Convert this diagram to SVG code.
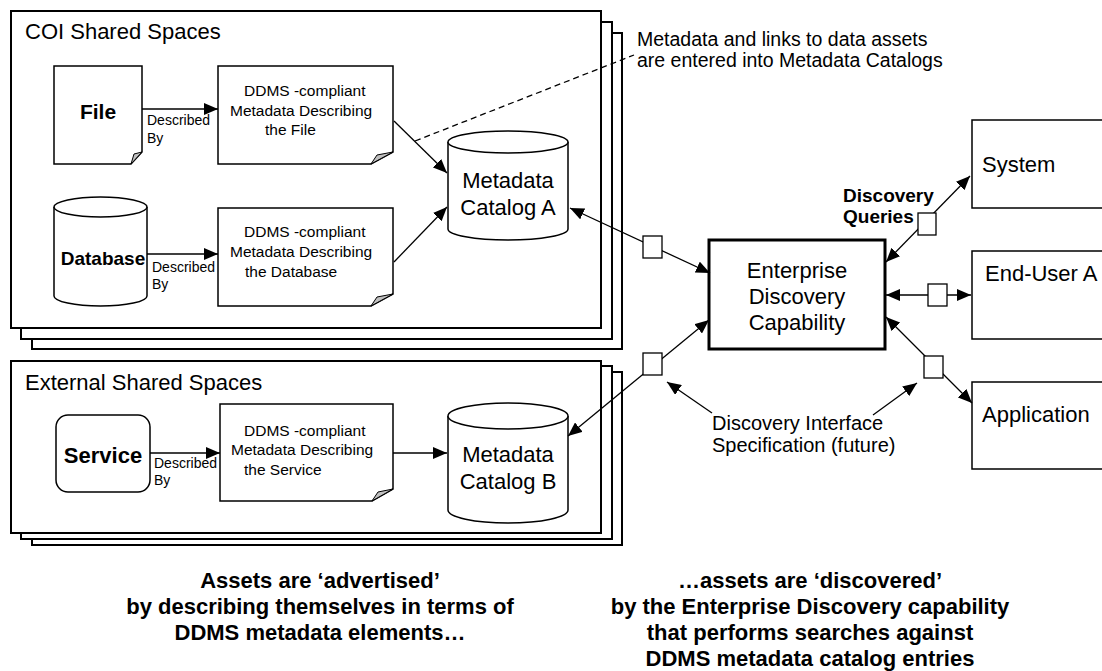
<svg xmlns="http://www.w3.org/2000/svg" width="1102" height="671" viewBox="0 0 1102 671">
<style>
.s{fill:#fff;stroke:#000;stroke-width:2}
.b{fill:#fff;stroke:#000;stroke-width:1.5}
.fold{fill:#c0c0c0;stroke:#000;stroke-width:1}
.ln{fill:none;stroke:#000;stroke-width:1.3}
.sq{fill:#fff;stroke:#000;stroke-width:1.3}
.t{font-family:"Liberation Sans",Arial,sans-serif;fill:#000}
.bd{font-weight:bold}
.m{text-anchor:middle}
</style>
<defs>
<marker id="ah" markerUnits="userSpaceOnUse" markerWidth="14" markerHeight="12" refX="14" refY="6" orient="auto-start-reverse">
<path d="M0,0 L14,6 L0,12 Z" fill="#000"/>
</marker>
</defs>

<g id="coi-stack">
<rect class="s" x="32" y="33" width="590" height="316"/>
<rect class="s" x="21" y="22" width="591" height="317"/>
<rect class="s" x="11" y="11" width="590" height="317"/>
<text class="t" x="25" y="39" font-size="22">COI Shared Spaces</text>
</g>

<g id="ext-stack">
<rect class="s" x="32" y="372" width="590" height="173"/>
<rect class="s" x="21" y="366" width="591" height="173"/>
<rect class="s" x="11" y="361" width="590" height="172"/>
<text class="t" x="25" y="390" font-size="22">External Shared Spaces</text>
</g>

<g id="file">
<path class="b" d="M54,66 H142 V152 L131,164 H54 Z"/>
<polygon class="fold" points="131,164 134,154 142,152"/>
<text class="t bd m" x="98" y="119" font-size="21">File</text>
</g>

<g id="doc-file">
<path class="b" d="M218,66 H393 V152 L371,164 H218 Z"/>
<polygon class="fold" points="371,164 377,155 393,152"/>
<text class="t" font-size="15.5"><tspan x="244" y="96">DDMS -compliant</tspan><tspan x="230" y="116">Metadata Describing</tspan><tspan x="265" y="135">the File</tspan></text>
</g>

<g id="database">
<path class="b" d="M54,207 V296 A46.5,10 0 0 0 147,296 V207"/>
<ellipse class="b" cx="100.5" cy="207" rx="46.5" ry="10"/>
<text class="t bd m" x="103" y="265" font-size="19">Database</text>
</g>

<g id="doc-database">
<path class="b" d="M218,208 H393 V294 L371,306 H218 Z"/>
<polygon class="fold" points="371,306 377,297 393,294"/>
<text class="t" font-size="15.5"><tspan x="244" y="237">DDMS -compliant</tspan><tspan x="230" y="257">Metadata Describing</tspan><tspan x="245" y="277">the Database</tspan></text>
</g>

<g id="catalog-a">
<path class="b" d="M448,142 V229 A60,11 0 0 0 568,229 V142"/>
<ellipse class="b" cx="508" cy="142" rx="60" ry="11"/>
<text class="t m" font-size="22"><tspan x="508" y="188">Metadata</tspan><tspan x="508" y="215">Catalog A</tspan></text>
</g>

<g id="service">
<rect class="b" x="56" y="415" width="94" height="77" rx="12"/>
<text class="t bd m" x="103" y="463" font-size="22">Service</text>
</g>

<g id="doc-service">
<path class="b" d="M220,404 H393 V489 L372,501 H220 Z"/>
<polygon class="fold" points="372,501 378,492 393,489"/>
<text class="t" font-size="15.5"><tspan x="244" y="436">DDMS -compliant</tspan><tspan x="231" y="455">Metadata Describing</tspan><tspan x="244" y="475">the Service</tspan></text>
</g>

<g id="catalog-b">
<path class="b" d="M448,416 V510 A60,13 0 0 0 568,510 V416"/>
<ellipse class="b" cx="508" cy="416" rx="60" ry="13"/>
<text class="t m" font-size="22"><tspan x="508" y="462">Metadata</tspan><tspan x="508" y="489">Catalog B</tspan></text>
</g>

<g id="edc">
<rect x="709" y="240" width="176" height="109" fill="#fff" stroke="#000" stroke-width="3"/>
<text class="t m" font-size="22"><tspan x="797" y="278">Enterprise</tspan><tspan x="797" y="304">Discovery</tspan><tspan x="797" y="330">Capability</tspan></text>
</g>

<g id="system">
<path class="b" d="M1102,120 H972 V208 H1102"/>
<text class="t" x="982" y="172" font-size="22">System</text>
</g>

<g id="end-user">
<path class="b" d="M1102,251 H972 V339 H1102"/>
<text class="t" x="985" y="281" font-size="22">End-User A</text>
</g>

<g id="application">
<path class="b" d="M1102,382 H972 V469 H1102"/>
<text class="t" x="982" y="422" font-size="22">Application</text>
</g>

<g id="connectors">
<line class="ln" x1="142" y1="109" x2="218" y2="109" marker-end="url(#ah)"/>
<line class="ln" x1="147" y1="254" x2="218" y2="254" marker-end="url(#ah)"/>
<line class="ln" x1="150" y1="453" x2="220" y2="453" marker-end="url(#ah)"/>
<line class="ln" x1="393" y1="453" x2="447" y2="453" marker-end="url(#ah)"/>
<line class="ln" x1="394" y1="121" x2="447" y2="173" marker-end="url(#ah)"/>
<line class="ln" x1="394" y1="262" x2="447" y2="207" marker-end="url(#ah)"/>
<line class="ln" x1="415" y1="141" x2="634" y2="55" stroke-dasharray="6,4"/>
<line class="ln" x1="570" y1="208" x2="710" y2="273" marker-start="url(#ah)" marker-end="url(#ah)"/>
<line class="ln" x1="568" y1="436" x2="709" y2="320" marker-start="url(#ah)" marker-end="url(#ah)"/>
<line class="ln" x1="886" y1="262" x2="970" y2="176" marker-start="url(#ah)" marker-end="url(#ah)"/>
<line class="ln" x1="886" y1="295" x2="971" y2="295" marker-start="url(#ah)" marker-end="url(#ah)"/>
<line class="ln" x1="886" y1="317" x2="972" y2="403" marker-start="url(#ah)" marker-end="url(#ah)"/>
<line class="ln" x1="712" y1="413" x2="667" y2="382" marker-end="url(#ah)"/>
<line class="ln" x1="873" y1="415" x2="917" y2="383" marker-end="url(#ah)"/>
<rect class="sq" x="643" y="236" width="19" height="22"/>
<rect class="sq" x="643" y="353" width="19" height="22"/>
<rect class="sq" x="918" y="213" width="18" height="22"/>
<rect class="sq" x="928" y="284" width="19" height="22"/>
<rect class="sq" x="924" y="356" width="19" height="22"/>
</g>

<g id="labels">
<text class="t" font-size="14"><tspan x="147" y="125">Described</tspan><tspan x="147" y="143">By</tspan></text>
<text class="t" font-size="14"><tspan x="152" y="272">Described</tspan><tspan x="152" y="289">By</tspan></text>
<text class="t" font-size="14"><tspan x="154" y="468">Described</tspan><tspan x="154" y="485">By</tspan></text>
<text class="t" font-size="19.5"><tspan x="637" y="46">Metadata and links to data assets</tspan><tspan x="637" y="67">are entered into Metadata Catalogs</tspan></text>
<text class="t" font-size="19" font-weight="bold"><tspan x="843" y="202">Discovery</tspan><tspan x="843" y="223">Queries</tspan></text>
<text class="t" font-size="20"><tspan x="712" y="430">Discovery Interface</tspan><tspan x="712" y="452">Specification (future)</tspan></text>
<text class="t bd m" font-size="22"><tspan x="320" y="588">Assets are ‘advertised’</tspan><tspan x="320" y="614">by describing themselves in terms of</tspan><tspan x="320" y="640">DDMS metadata elements…</tspan></text>
<text class="t bd m" font-size="22"><tspan x="810" y="588">…assets are ‘discovered’</tspan><tspan x="810" y="614">by the Enterprise Discovery capability</tspan><tspan x="810" y="640">that performs searches against</tspan><tspan x="810" y="666">DDMS metadata catalog entries</tspan></text>
</g>
</svg>
